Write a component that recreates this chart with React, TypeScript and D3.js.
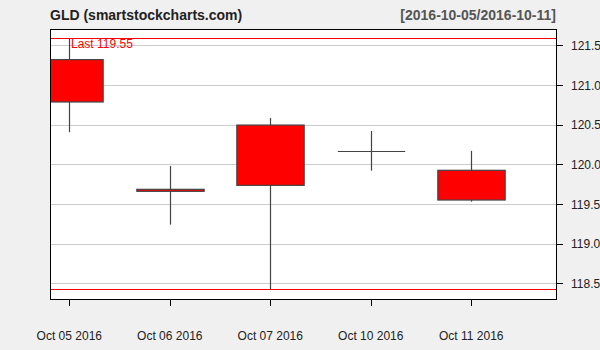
import React from "react";
import * as d3 from "d3";

const dates = ["Oct 05 2016", "Oct 06 2016", "Oct 07 2016", "Oct 10 2016", "Oct 11 2016"];
const opens = [121.32, 119.685, 119.735, 120.165, 119.925];
const highs = [121.588, 119.98, 120.585, 120.42, 120.17];
const lows = [120.405, 119.24, 118.424, 119.92, 119.53];
const closes = [120.786, 119.66, 120.495, 120.16, 119.55];
const yTicks = [118.5, 119.0, 119.5, 120.0, 120.5, 121.0, 121.5];
const title = "GLD (smartstockcharts.com)";
const rangeLabel = "[2016-10-05/2016-10-11]";

const W = 600;
const H = 350;
const L = 50, R = 556, T = 29, B = 299;

export default function App() {
  const x = d3.scaleLinear().domain([-0.192, 4.843]).range([L, R]);
  const y = d3.scaleLinear().domain([118.3025, 121.706]).range([B, T]);
  const bw = (x(1) - x(0)) * 0.67;
  const lastClose = closes[closes.length - 1];
  const maxHigh = d3.max(highs) as number;
  const minLow = d3.min(lows) as number;
  const font = "'Liberation Sans', Arial, sans-serif";

  return (
    <svg width={W} height={H} style={{ position: "absolute", left: 0, top: 0 }} fontFamily={font}>
      <defs>
        <clipPath id="plotclip">
          <rect x={L} y={T} width={R - L} height={B - T} />
        </clipPath>
      </defs>
      <rect x={0} y={0} width={W} height={H} fill="#f0f0f0" />
      <rect x={L} y={T} width={R - L} height={B - T} fill="#ffffff" />
      {yTicks.map((v) => (
        <line key={"g" + v} x1={L} x2={R} y1={Math.round(y(v)) + 0.5} y2={Math.round(y(v)) + 0.5} stroke="#cccccc" strokeWidth={1} />
      ))}
      <g clipPath="url(#plotclip)">
        <line x1={L} x2={R} y1={Math.round(y(maxHigh)) + 0.5} y2={Math.round(y(maxHigh)) + 0.5} stroke="#ff0000" strokeWidth={1} />
        <line x1={L} x2={R} y1={Math.round(y(minLow)) + 0.5} y2={Math.round(y(minLow)) + 0.5} stroke="#ff0000" strokeWidth={1} />
        {dates.map((d, i) => {
          const cx = Math.round(x(i)) + 0.5;
          const top = y(Math.max(opens[i], closes[i]));
          const bot = y(Math.min(opens[i], closes[i]));
          return (
            <g key={d}>
              <line x1={cx} x2={cx} y1={y(highs[i])} y2={y(lows[i])} stroke="#444444" strokeWidth={1.2} />
              {bot - top < 1 ? (
                <line x1={cx - bw / 2} x2={cx + bw / 2} y1={Math.round(top) + 0.5} y2={Math.round(top) + 0.5} stroke="#444444" strokeWidth={1.2} />
              ) : (
                <rect x={cx - bw / 2} y={top} width={bw} height={bot - top} fill="#ff0000" stroke="#444444" strokeWidth={1.2} />
              )}
            </g>
          );
        })}
      </g>
      <text x={71} y={y(maxHigh) + 10} fill="#ff0000" fontSize={12}>{"Last " + lastClose.toFixed(2)}</text>
      <rect x={L + 0.5} y={T + 0.5} width={R - L} height={B - T} fill="none" stroke="#000000" strokeWidth={1} />
      {yTicks.map((v) => (
        <g key={"t" + v}>
          <line x1={R} x2={R + 7} y1={Math.round(y(v)) + 0.5} y2={Math.round(y(v)) + 0.5} stroke="#000000" strokeWidth={1} />
          <text x={571} y={y(v) + 4.5} fontSize={12} fill="#222222">{v.toFixed(1)}</text>
        </g>
      ))}
      {dates.map((d, i) => (
        <g key={"x" + d}>
          <line x1={Math.round(x(i)) + 0.5} x2={Math.round(x(i)) + 0.5} y1={B + 0.5} y2={B + 7} stroke="#000000" strokeWidth={1} />
          <text x={x(i)} y={340} fontSize={12} textAnchor="middle" fill="#222222">{d}</text>
        </g>
      ))}
      <text x={50} y={20} fontSize={14} fontWeight="bold" fill="#222222">{title}</text>
      <text x={556} y={20} fontSize={14} fontWeight="bold" fill="#555555" textAnchor="end">{rangeLabel}</text>
    </svg>
  );
}
